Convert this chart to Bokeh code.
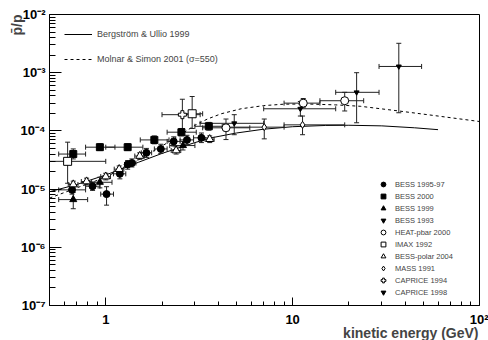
import math
from bokeh.plotting import figure
from bokeh.models import FixedTicker, Legend, LegendItem, Title
from bokeh.embed import file_html
from bokeh.resources import INLINE

# ---------------- data ----------------
# Bergstrom & Ullio 1999 (solid curve)
bu_x = [0.5, 0.7, 1.0, 1.25, 1.5, 2.0, 2.5, 3.0, 3.67, 5.0, 7.0, 10.0, 15.0, 20.0, 30.0, 45.0, 60.0]
bu_y = [9.0e-6, 1.2e-5, 1.75e-5, 2.3e-5, 2.9e-5, 4.1e-5, 5.2e-5, 6.3e-5, 7.6e-5, 9.2e-5,
        1.07e-4, 1.18e-4, 1.24e-4, 1.25e-4, 1.22e-4, 1.13e-4, 1.05e-4]
# Molnar & Simon 2001 (dashed curve)
ms_x = [0.5, 0.7, 1.0, 1.5, 2.0, 2.5, 3.0, 3.5, 4.15, 5.3, 7.0, 9.0, 12.0, 17.0, 23.0, 37.0, 60.0, 100.0]
ms_y = [7.0e-6, 1.05e-5, 1.6e-5, 3.2e-5, 5.5e-5, 8.5e-5, 1.25e-4, 1.6e-4, 1.97e-4, 2.4e-4,
        2.72e-4, 2.88e-4, 2.9e-4, 2.8e-4, 2.65e-4, 2.2e-4, 1.8e-4, 1.45e-4]

# BESS 1995-97 (filled circles)
b9597_x = [0.66, 0.85, 1.01, 1.19, 1.31, 1.38, 1.65, 1.97, 2.31, 2.72, 3.25]
b9597_y = [9.7e-6, 1.12e-5, 8.2e-6, 1.83e-5, 2.65e-5, 2.8e-5, 4.2e-5, 4.9e-5, 6.6e-5, 7.0e-5, 7.6e-5]
b9597_xlo = [0.56, 0.78, 0.94, 1.10, 1.26, 1.33, 1.55, 1.82, 2.13, 2.50, 2.95]
b9597_xhi = [0.78, 0.93, 1.10, 1.28, 1.36, 1.45, 1.76, 2.13, 2.50, 2.95, 3.56]
b9597_ylo = [8.2e-6, 9.5e-6, 5.3e-6, 1.5e-5, 2.2e-5, 2.4e-5, 3.5e-5, 4.1e-5, 5.5e-5, 5.8e-5, 6.3e-5]
b9597_yhi = [1.15e-5, 1.32e-5, 1.1e-5, 2.2e-5, 3.1e-5, 3.3e-5, 5.0e-5, 5.9e-5, 7.9e-5, 8.4e-5, 9.2e-5]

# BESS 2000 (filled squares)
b00_x = [0.67, 0.93, 1.31, 1.82, 2.54, 3.56]
b00_y = [4.0e-5, 5.25e-5, 5.25e-5, 7.0e-5, 9.5e-5, 1.2e-4]
b00_xlo = [0.56, 0.78, 1.0, 1.53, 2.13, 3.0]
b00_xhi = [0.78, 1.12, 1.58, 2.18, 3.05, 4.2]
b00_ylo = [3.3e-5, 4.6e-5, 4.6e-5, 6.0e-5, 8.2e-5, 1.03e-4]
b00_yhi = [4.9e-5, 6.0e-5, 6.0e-5, 8.2e-5, 1.1e-4, 1.4e-4]

# BESS 1999 (filled triangles)
b99_x = [0.67, 0.93, 2.59]
b99_y = [6.6e-6, 1.31e-5, 5.6e-5]
b99_xlo = [0.56, 0.80, 2.2]
b99_xhi = [0.80, 1.08, 3.0]
b99_ylo = [4.6e-6, 1.05e-5, 4.7e-5]
b99_yhi = [8.8e-6, 1.6e-5, 6.6e-5]

# BESS 1993 (filled inverted triangles): no point inside the plotted range
b93_x = [float("nan")]
b93_y = [float("nan")]

# HEAT-pbar 2000 (open circles)
heat_x = [4.4, 11.4, 19.0]
heat_y = [1.13e-4, 3.0e-4, 3.3e-4]
heat_xlo = [3.3, 9.0, 14.0]
heat_xhi = [5.9, 14.0, 24.0]
heat_ylo = [7.1e-5, 2.5e-4, 2.2e-4]
heat_yhi = [1.6e-4, 3.6e-4, 4.6e-4]

# IMAX 1992 (open squares)
imax_x = [0.625, 2.9]
imax_y = [3.0e-5, 1.97e-4]
imax_xlo = [0.5, 2.55]
imax_xhi = [1.0, 3.3]
imax_ylo = [1.26e-5, 1.1e-4]
imax_yhi = [6.4e-5, 3.9e-4]

# BESS-polar 2004 (open triangles)
bp_x = [0.67, 0.79, 1.0, 1.18, 1.52, 2.38, 3.6]
bp_y = [1.2e-5, 1.35e-5, 1.64e-5, 2.2e-5, 3.7e-5, 4.6e-5, 7.2e-5]
bp_xlo = [0.63, 0.74, 0.94, 1.11, 1.43, 2.24, 3.4]
bp_xhi = [0.71, 0.84, 1.06, 1.25, 1.61, 2.52, 3.8]
bp_ylo = [1.05e-5, 1.18e-5, 1.44e-5, 1.93e-5, 3.25e-5, 4.0e-5, 6.3e-5]
bp_yhi = [1.37e-5, 1.54e-5, 1.87e-5, 2.5e-5, 4.2e-5, 5.3e-5, 8.2e-5]

# MASS 1991 (open diamonds)
mass_x = [7.05, 11.3]
mass_y = [1.16e-4, 1.27e-4]
mass_xlo = [4.3, 9.0]
mass_xhi = [9.0, 19.0]
mass_ylo = [7.3e-5, 8.6e-5]
mass_yhi = [1.6e-4, 1.8e-4]

# CAPRICE 1994 (open crosses)
c94_x = [2.57]
c94_y = [1.9e-4]
c94_xlo = [2.0]
c94_xhi = [3.2]
c94_ylo = [1.1e-4]
c94_yhi = [3.5e-4]

# CAPRICE 1998 (small filled markers)
c98_x = [4.87, 11.0, 22.0, 37.0]
c98_y = [1.35e-4, 2.4e-4, 4.6e-4, 1.28e-3]
c98_xlo = [3.2, 7.0, 17.0, 29.0]
c98_xhi = [7.0, 17.0, 29.0, 49.0]
c98_ylo = [8.6e-5, 1.8e-4, 1.38e-4, 2.05e-4]
c98_yhi = [1.9e-4, 3.2e-4, 1.0e-3, 3.2e-3]

x_major = [1, 10, 100]
x_major_labels = ["1", "10", "10\u00b2"]
y_major = [1e-7, 1e-6, 1e-5, 1e-4, 1e-3, 1e-2]
y_major_labels = ["10\u207b\u2077", "10\u207b\u2076", "10\u207b\u2075",
                  "10\u207b\u2074", "10\u207b\u00b3", "10\u207b\u00b2"]

# ---------------- figure ----------------
FONT = "Liberation Sans"
W, H = 488, 340
BL, BR, BT, BB = 49, 9, 14, 35
XMIN, XMAX, YMIN, YMAX = 0.5, 100.0, 1e-7, 1e-2

p = figure(width=W, height=H, x_axis_type="log", y_axis_type="log",
           x_range=(XMIN, XMAX), y_range=(YMIN, YMAX),
           output_backend="svg", toolbar_location=None,
           min_border_left=BL, min_border_right=BR, min_border_top=BT, min_border_bottom=BB)
p.xgrid.visible = False
p.ygrid.visible = False
p.outline_line_color = "black"
p.outline_line_width = 1
p.background_fill_color = "white"
p.border_fill_color = "white"

x_minor = [m * 10 ** k for k in (-1, 0, 1) for m in range(2, 10) if XMIN < m * 10 ** k < XMAX]
y_minor = [m * 10.0 ** k for k in range(-7, -2) for m in range(2, 10)]

p.xaxis.ticker = FixedTicker(ticks=x_major, minor_ticks=x_minor)
p.yaxis.ticker = FixedTicker(ticks=y_major, minor_ticks=y_minor)
p.xaxis.major_label_overrides = {t: s for t, s in zip(x_major, x_major_labels)}
p.yaxis.major_label_overrides = {t: s for t, s in zip(y_major, y_major_labels)}

for ax in (p.xaxis[0], p.yaxis[0]):
    ax.axis_line_color = "black"
    ax.major_tick_line_color = "black"
    ax.minor_tick_line_color = "black"
    ax.major_tick_out = 0
    ax.minor_tick_out = 0
    ax.major_label_text_font = FONT
    ax.major_label_text_font_style = "bold"
    ax.major_label_text_font_size = "13px"
    ax.major_label_text_color = "black"

p.xaxis.major_tick_in = 8
p.xaxis.minor_tick_in = 4
p.xaxis.major_label_standoff = 6
p.yaxis.major_tick_in = 12
p.yaxis.minor_tick_in = 6
p.yaxis.major_label_standoff = 4

# ---------------- curves ----------------
r_bu = p.line(bu_x, bu_y, line_color="black", line_width=1)
r_ms = p.line(ms_x, ms_y, line_color="black", line_width=1, line_dash="3 3")

EB = "#222222"


def errbars(x, y, xlo, xhi, ylo, yhi):
    p.segment(x0=xlo, y0=y, x1=xhi, y1=y, line_color=EB, line_width=1)
    p.segment(x0=x, y0=ylo, x1=x, y1=yhi, line_color=EB, line_width=1)
    p.scatter(x=list(xlo) + list(xhi), y=list(y) + list(y), marker="dash",
              angle=math.pi / 2, size=5, line_color=EB, line_width=1)
    p.scatter(x=list(x) + list(x), y=list(ylo) + list(yhi), marker="dash",
              size=5, line_color=EB, line_width=1)


errbars(b9597_x, b9597_y, b9597_xlo, b9597_xhi, b9597_ylo, b9597_yhi)
errbars(b00_x, b00_y, b00_xlo, b00_xhi, b00_ylo, b00_yhi)
errbars(b99_x, b99_y, b99_xlo, b99_xhi, b99_ylo, b99_yhi)
errbars(heat_x, heat_y, heat_xlo, heat_xhi, heat_ylo, heat_yhi)
errbars(imax_x, imax_y, imax_xlo, imax_xhi, imax_ylo, imax_yhi)
errbars(bp_x, bp_y, bp_xlo, bp_xhi, bp_ylo, bp_yhi)
errbars(mass_x, mass_y, mass_xlo, mass_xhi, mass_ylo, mass_yhi)
errbars(c94_x, c94_y, c94_xlo, c94_xhi, c94_ylo, c94_yhi)
errbars(c98_x, c98_y, c98_xlo, c98_xhi, c98_ylo, c98_yhi)

r_b9597 = p.scatter(b9597_x, b9597_y, marker="circle", size=7, fill_color="black", line_color="black")
r_b00 = p.scatter(b00_x, b00_y, marker="square", size=7, fill_color="black", line_color="black")
r_b99 = p.scatter(b99_x, b99_y, marker="triangle", size=7, fill_color="black", line_color="black")
r_b93 = p.scatter(b93_x, b93_y, marker="inverted_triangle", size=7, fill_color="black", line_color="black")
r_heat = p.scatter(heat_x, heat_y, marker="circle", size=8, fill_color="white", line_color="black")
r_imax = p.scatter(imax_x, imax_y, marker="square", size=8, fill_color="white", line_color="black")
r_bp = p.scatter(bp_x, bp_y, marker="triangle", size=8, fill_color="white", line_color="black")
r_mass = p.scatter(mass_x, mass_y, marker="diamond", size=7, fill_color="white", line_color="black")
r_c94 = p.scatter(c94_x, c94_y, marker="plus", size=8, fill_color="white", line_color="black")
r_c98 = p.scatter(c98_x, c98_y, marker="inverted_triangle", size=5, fill_color="black", line_color="black")

# ---------------- legends ----------------
leg1 = Legend(items=[LegendItem(label="Bergstr\u00f6m & Ullio 1999", renderers=[r_bu]),
                     LegendItem(label="Molnar & Simon 2001 (\u03c3=550)", renderers=[r_ms])],
              location=(15, 236), glyph_width=28, glyph_height=20, label_height=20,
              spacing=5, padding=0, margin=0, label_standoff=5,
              label_text_font=FONT, label_text_font_size="9px",
              border_line_color=None, background_fill_alpha=0)
p.add_layout(leg1)

leg2 = Legend(items=[LegendItem(label="BESS 1995-97", renderers=[r_b9597]),
                     LegendItem(label="BESS 2000", renderers=[r_b00]),
                     LegendItem(label="BESS 1999", renderers=[r_b99]),
                     LegendItem(label="BESS 1993", renderers=[r_b93]),
                     LegendItem(label="HEAT-pbar 2000", renderers=[r_heat]),
                     LegendItem(label="IMAX 1992", renderers=[r_imax]),
                     LegendItem(label="BESS-polar 2004", renderers=[r_bp]),
                     LegendItem(label="MASS 1991", renderers=[r_mass]),
                     LegendItem(label="CAPRICE 1994", renderers=[r_c94]),
                     LegendItem(label="CAPRICE 1998", renderers=[r_c98])],
              location=(328, 7), glyph_width=12, glyph_height=12, label_height=12,
              spacing=0, padding=0, margin=0, label_standoff=6,
              label_text_font=FONT, label_text_font_size="7.5px",
              border_line_color=None, background_fill_alpha=0)
p.add_layout(leg2)

# ---------------- axis titles (ROOT style: at the axis ends) ----------------
p.add_layout(Title(text="kinetic energy (GeV)", align="right", vertical_align="top",
                   standoff=-9, offset=1,
                   text_font=FONT, text_font_style="bold", text_font_size="14px"), "below")
p.add_layout(Title(text="p\u0304/p", align="right", standoff=-14,
                   text_font=FONT, text_font_style="bold", text_font_size="14px"), "left")

open("out.html", "w").write(file_html(p, INLINE))
